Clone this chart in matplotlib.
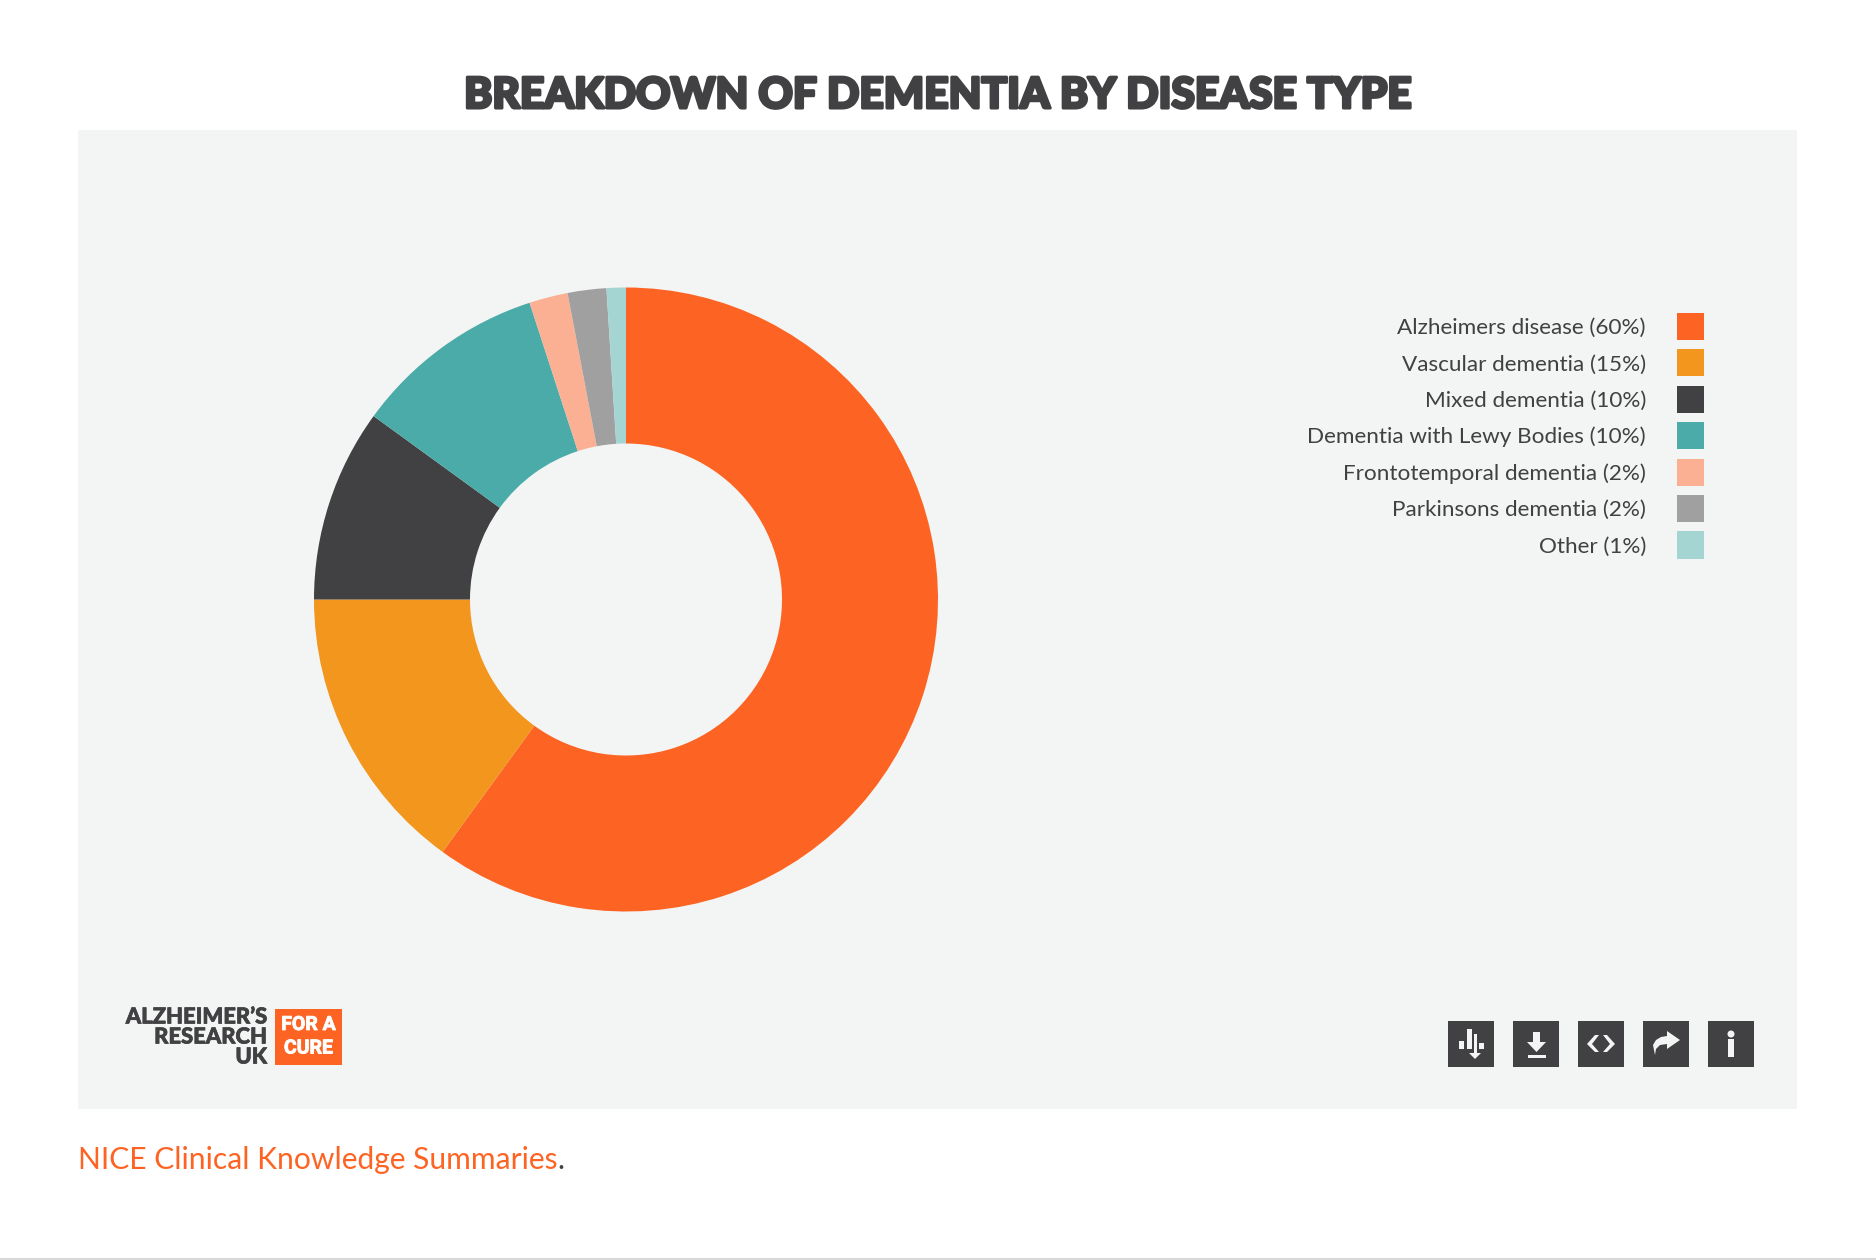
import matplotlib
matplotlib.use("Agg")
import matplotlib.pyplot as plt
from matplotlib.patches import Rectangle, Polygon, Circle
import matplotlib.patheffects as pe

W, H = 1876, 1260
categories = ["Alzheimers disease (60%)", "Vascular dementia (15%)", "Mixed dementia (10%)",
              "Dementia with Lewy Bodies (10%)", "Frontotemporal dementia (2%)",
              "Parkinsons dementia (2%)", "Other (1%)"]
values = [60, 15, 10, 10, 2, 2, 1]
colors = ["#FD6423", "#F2961E", "#414042", "#4AABA8", "#FBB093", "#A0A0A0", "#A5D5D3"]
title = "BREAKDOWN OF DEMENTIA BY DISEASE TYPE"
DARK = "#414042"; ORANGE = "#FD6423"; PANEL = "#F3F5F4"
FONT = "Lato"
fpx = lambda px: px * 0.72

fig = plt.figure(figsize=(W/100, H/100), dpi=100, facecolor="white")
bg = fig.add_axes([0, 0, 1, 1], zorder=0)
bg.set_xlim(0, W); bg.set_ylim(H, 0); bg.axis("off")
bg.add_patch(Rectangle((78, 130), 1719, 978.5, fc=PANEL, ec="none"))
bg.plot([0, W], [1259, 1259], color="#D8D8D8", lw=1.5)

R = 312; cx, cy = 626, 599.5
ax = fig.add_axes([(cx-R)/W, 1-(cy+R)/H, 2*R/W, 2*R/H], zorder=1)
wedges, _ = ax.pie(values, colors=colors, startangle=90, counterclock=False, radius=1,
                   wedgeprops=dict(width=0.5, linewidth=0))
ax.set_xlim(-1, 1); ax.set_ylim(-1, 1)

leg = fig.legend(wedges, categories, loc="upper right", bbox_to_anchor=(1704/W, 1-313/H),
                 bbox_transform=fig.transFigure, frameon=False, markerfirst=False,
                 prop=dict(family=FONT, size=fpx(22.5)), labelcolor=DARK,
                 handlelength=1.2, handleheight=1.47, labelspacing=0.418,
                 handletextpad=1.38, borderpad=0, borderaxespad=0, alignment="right")
for t in leg.get_texts():
    t.set_ha("right")

bg.text(938, 96, title, ha="center", va="center", color=DARK, fontsize=fpx(42.5),
        family=FONT, fontweight="black",
        path_effects=[pe.withStroke(linewidth=2.2, foreground=DARK)])

# source line
bg.text(78, 1160, "NICE Clinical Knowledge Summaries", ha="left", va="center",
        color=ORANGE, fontsize=fpx(30), family=FONT)
bg.text(557, 1160, ".", ha="left", va="center", color=DARK, fontsize=fpx(30), family=FONT)

# logo
for y, s in zip([1017, 1037, 1057], ["ALZHEIMER’S", "RESEARCH", "UK"]):
    bg.text(267, y, s, ha="right", va="center", color=DARK, fontsize=fpx(22), family=FONT,
            fontweight="black",
            path_effects=[pe.withStroke(linewidth=0.5, foreground=DARK)])
bg.add_patch(Rectangle((275, 1009), 67, 56, fc=ORANGE, ec="none"))
for y, s in zip([1025, 1048.5], ["FOR A", "CURE"]):
    bg.text(308.5, y, s, ha="center", va="center", color="white", fontsize=fpx(19.5),
            family="Roboto", fontweight="bold",
            path_effects=[pe.withStroke(linewidth=0.6, foreground="white")])

# toolbar icons
xs = [1448, 1513, 1578, 1643, 1708]
for x in xs:
    bg.add_patch(Rectangle((x, 1021), 46, 46, fc=DARK, ec="none"))
ic = "#F3F5F4"
def r(x, y, w, h):
    bg.add_patch(Rectangle((x, y), w, h, fc=ic, ec="none"))
def p(pts):
    bg.add_patch(Polygon(pts, closed=True, fc=ic, ec="none"))
# bars + arrow
x = xs[0]
r(x+11, 1041, 5, 8); r(x+18.5, 1029, 5, 20); r(x+31, 1043, 5, 5.5); r(x+25.5, 1034, 3, 20)
p([(x+21, 1053), (x+33, 1053), (x+27, 1059)])
# download
x = xs[1]
r(x+20, 1032, 7, 11); p([(x+14, 1042), (x+33, 1042), (x+23.5, 1052)]); r(x+15, 1055, 18, 3)
# code
x = xs[2]
p([(x+9, 1044), (x+17, 1035), (x+21, 1035), (x+14, 1044), (x+21, 1052), (x+17, 1052)])
p([(x+37, 1044), (x+29, 1035), (x+25, 1035), (x+32, 1044), (x+25, 1052), (x+29, 1052)])
# share
x = xs[3]
p([(x+24, 1031), (x+37, 1040), (x+24, 1049), (x+24, 1044), (x+17, 1045), (x+13, 1049),
   (x+12, 1055), (x+11, 1050), (x+10, 1045), (x+13, 1040), (x+18, 1037), (x+24, 1036)])
# info
x = xs[4]
bg.add_patch(Circle((x+23, 1034), 3.5, fc=ic, ec="none")); r(x+20, 1039, 6, 18)

fig.savefig("out.png", dpi=100, facecolor="white")
